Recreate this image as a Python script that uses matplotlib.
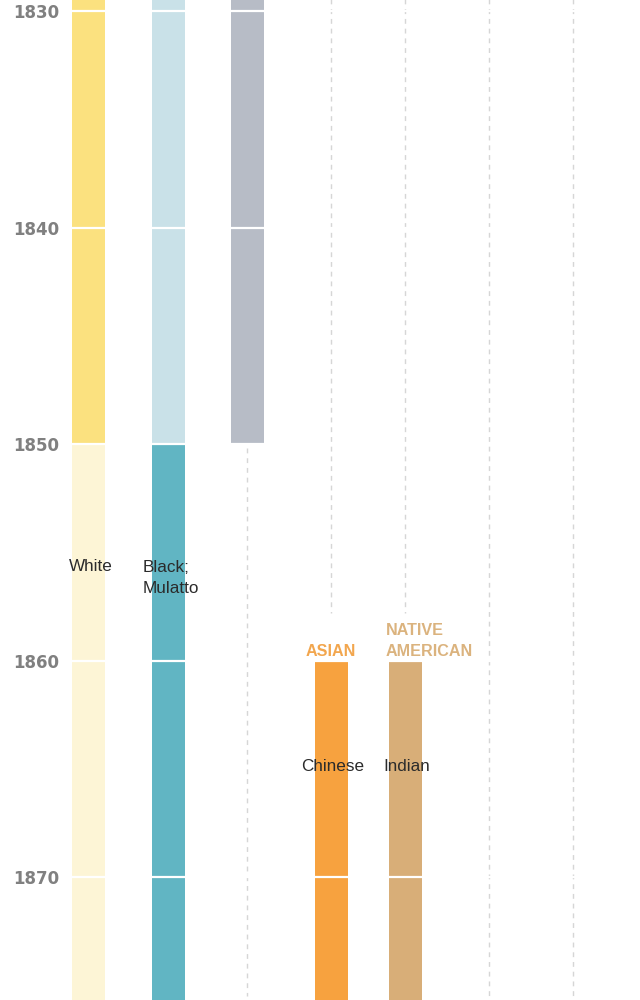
import matplotlib
matplotlib.use("Agg")
import matplotlib.pyplot as plt

# ---------------- data ----------------
decade_ticks = [1830, 1840, 1850, 1860, 1870]

# bar segments: column, start year, end year, colour key
seg_column = ["White", "White", "Black", "Black", "Other", "Asian", "Native"]
seg_start = [1820, 1850, 1820, 1850, 1820, 1860, 1860]
seg_end = [1850, 1880, 1850, 1880, 1850, 1880, 1880]
seg_kind = ["white_old", "white_new", "black_old", "black_new", "other", "asian", "native"]

# census category labels written on bars
label_column = ["White", "Black", "Asian", "Native"]
label_text = ["White", "Black;\nMulatto", "Chinese", "Indian"]
label_year = [1855.87, 1856.88, 1865.1, 1865.1]

# group headers
header_column = ["Asian", "Native"]
header_text = ["ASIAN", "NATIVE\nAMERICAN"]

# dashed guide lines: column, from year, to year
guide_column = ["Other", "Asian", "Native", "Extra1", "Extra2"]
guide_from = [1850.2, 1829.0, 1829.0, 1829.0, 1829.0]
guide_to = [1875.5, 1857.8, 1857.8, 1875.5, 1875.5]

# ---------------- layout / style ----------------
col_x = {"White": 88.5, "Black": 168.5, "Other": 247, "Asian": 331,
         "Native": 405, "Extra1": 489, "Extra2": 573}
colors = {"white_old": "#fbe17f", "white_new": "#fdf5d6",
          "black_old": "#c9e1e8", "black_new": "#61b5c3",
          "other": "#b7bcc6", "asian": "#f7a23f", "native": "#d8ae78"}
header_color = {"Asian": "#f2a64e", "Native": "#dbb37e"}
header_ha = {"Asian": "center", "Native": "left"}
header_dx = {"Asian": 0, "Native": -19}
header_year = {"Asian": 1859.8, "Native": 1859.8}
bar_w = 33

fig = plt.figure(figsize=(6.4, 10), dpi=100)
ax = fig.add_axes([0, 0, 1, 1])
ax.set_xlim(0, 640)
ax.set_ylim(1875.68, 1829.49)
ax.axis("off")

# dashed guides
for c, y0, y1 in zip(guide_column, guide_from, guide_to):
    ax.plot([col_x[c], col_x[c]], [y0, y1], color="#d6d6d6", lw=1.0,
            dashes=(3.5, 3.5), zorder=1)

# bars
for c, s, e, k in zip(seg_column, seg_start, seg_end, seg_kind):
    ax.bar(col_x[c], e - s, bottom=s, width=bar_w, color=colors[k],
           zorder=2, linewidth=0)

# white decade separators across bars
for y in decade_ticks:
    ax.axhline(y, color="white", lw=1.6, zorder=3)

# year tick labels
for y in decade_ticks:
    ax.text(13, y + 0.1, str(y), ha="left", va="center", fontsize=12,
            fontweight="bold", color="#808080", family="DejaVu Sans", zorder=4)

# labels on bars
for c, t, y in zip(label_column, label_text, label_year):
    ax.text(col_x[c] + 2, y, t, ha="center", va="baseline", multialignment="left",
            fontsize=12.3, color="#2b2b2b", family="Liberation Sans",
            linespacing=1.53, zorder=4)

# headers
for c, t in zip(header_column, header_text):
    ax.text(col_x[c] + header_dx[c], header_year[c], t, ha=header_ha[c],
            va="baseline", multialignment="left", fontsize=11.6,
            fontweight="bold", color=header_color[c], family="Liberation Sans",
            linespacing=1.53, zorder=4)

fig.savefig("out.png", dpi=100, facecolor="white")
